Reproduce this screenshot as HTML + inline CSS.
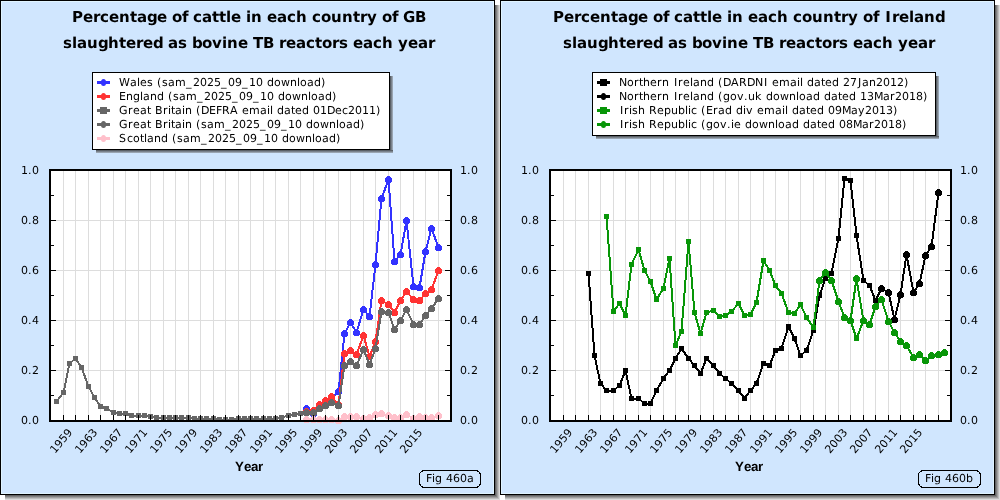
<!DOCTYPE html>
<html lang="en"><head><meta charset="utf-8"><title>Percentage of cattle slaughtered as bovine TB reactors each year</title>
<style>html,body{margin:0;padding:0;background:#fff}body{width:1000px;height:500px;overflow:hidden;font-size:0;line-height:0}.wrap{width:1000px;height:500px;display:flex}.panel{display:block;width:500px;height:500px;flex:0 0 500px}text{text-rendering:geometricPrecision}.panel{will-change:transform}</style></head><body><div class="wrap">
<svg class="panel" width="500" height="500" viewBox="0 0 500 500">
<defs><linearGradient id="lra" x1="0" y1="0" x2="1" y2="0"><stop offset="0" stop-color="#4c5055"/><stop offset="1" stop-color="#a9b6c4"/></linearGradient><linearGradient id="lba" x1="0" y1="0" x2="0" y2="1"><stop offset="0" stop-color="#4c5055"/><stop offset="1" stop-color="#a9b6c4"/></linearGradient></defs>
<rect x="495" y="5" width="1" height="491" fill="#646464"/><rect x="5" y="495" width="490" height="1" fill="#646464"/>
<rect x="496" y="5" width="1" height="492" fill="#828282"/><rect x="5" y="496" width="491" height="1" fill="#828282"/>
<rect x="497" y="5" width="1" height="493" fill="#a0a0a0"/><rect x="5" y="497" width="492" height="1" fill="#a0a0a0"/>
<rect x="498" y="5" width="1" height="494" fill="#bebebe"/><rect x="5" y="498" width="493" height="1" fill="#bebebe"/>
<rect x="499" y="5" width="1" height="495" fill="#dcdcdc"/><rect x="5" y="499" width="494" height="1" fill="#dcdcdc"/>
<rect x="0" y="0" width="495" height="495" fill="#000"/>
<rect x="1" y="1" width="493" height="493" fill="#e0f4ff"/>
<rect x="2" y="2" width="491" height="491" fill="#d0e6fe"/>
<text x="72 83 93 100 109 119 130 137 147 157 167 172 182 188 193 202 212 219 226 231 241 246 251 262 267 277 287 296 307 312 321 331 342 353 360 367 377 382 392 398 403 415" y="22.2" font-family="'DejaVu Sans', 'Liberation Sans', sans-serif" font-weight="bold" font-size="15" fill="#000000">Percentage of cattle in each country of GB</text>
<text x="63 72 77 87 98 108 119 126 136 143 153 163 168 178 187 192 202 212 222 227 238 248 253 263 274 279 286 296 306 315 322 332 339 348 353 363 373 382 393 398 408 418 428" y="47.6" font-family="'DejaVu Sans', 'Liberation Sans', sans-serif" font-weight="bold" font-size="15" fill="#000000">slaughtered as bovine TB reactors each year</text>
<rect x="50" y="170" width="401" height="251" fill="#fff"/>
<path d="M63.5 171V420M75.5 171V420M88.5 171V420M100.5 171V420M113.5 171V420M125.5 171V420M138.5 171V420M150.5 171V420M163.5 171V420M175.5 171V420M188.5 171V420M200.5 171V420M213.5 171V420M225.5 171V420M238.5 171V420M250.5 171V420M263.5 171V420M275.5 171V420M288.5 171V420M300.5 171V420M313.5 171V420M325.5 171V420M338.5 171V420M350.5 171V420M363.5 171V420M375.5 171V420M388.5 171V420M400.5 171V420M413.5 171V420M425.5 171V420M438.5 171V420M51 370.5H450M51 320.5H450M51 270.5H450M51 220.5H450" stroke="#dddddd" stroke-width="1" fill="none"/>
<polyline points="306.5,408.5 313.5,413.5 319.5,406.5 325.5,402.5 331.5,398.5 338.5,391.5 344.5,333.5 350.5,322.5 356.5,332.5 363.5,309.5 369.5,316.5 375.5,264.5 381.5,198.5 388.5,179.5 394.5,261.5 400.5,254.5 406.5,220.5 413.5,286.5 419.5,287.5 425.5,251.5 431.5,228.5 438.5,247.5" fill="none" stroke="#3333ff" stroke-width="2" stroke-linejoin="round" shape-rendering="crispEdges"/>
<g shape-rendering="crispEdges"><circle cx="306.5" cy="408.5" r="3.5" fill="#3333ff"/><circle cx="313.5" cy="413.5" r="3.5" fill="#3333ff"/><circle cx="319.5" cy="406.5" r="3.5" fill="#3333ff"/><circle cx="325.5" cy="402.5" r="3.5" fill="#3333ff"/><circle cx="331.5" cy="398.5" r="3.5" fill="#3333ff"/><circle cx="338.5" cy="391.5" r="3.5" fill="#3333ff"/><circle cx="344.5" cy="333.5" r="3.5" fill="#3333ff"/><circle cx="350.5" cy="322.5" r="3.5" fill="#3333ff"/><circle cx="356.5" cy="332.5" r="3.5" fill="#3333ff"/><circle cx="363.5" cy="309.5" r="3.5" fill="#3333ff"/><circle cx="369.5" cy="316.5" r="3.5" fill="#3333ff"/><circle cx="375.5" cy="264.5" r="3.5" fill="#3333ff"/><circle cx="381.5" cy="198.5" r="3.5" fill="#3333ff"/><circle cx="388.5" cy="179.5" r="3.5" fill="#3333ff"/><circle cx="394.5" cy="261.5" r="3.5" fill="#3333ff"/><circle cx="400.5" cy="254.5" r="3.5" fill="#3333ff"/><circle cx="406.5" cy="220.5" r="3.5" fill="#3333ff"/><circle cx="413.5" cy="286.5" r="3.5" fill="#3333ff"/><circle cx="419.5" cy="287.5" r="3.5" fill="#3333ff"/><circle cx="425.5" cy="251.5" r="3.5" fill="#3333ff"/><circle cx="431.5" cy="228.5" r="3.5" fill="#3333ff"/><circle cx="438.5" cy="247.5" r="3.5" fill="#3333ff"/></g>
<polyline points="306.5,411.5 313.5,410.5 319.5,404.5 325.5,400.5 331.5,396.5 338.5,404.5 344.5,353.5 350.5,350.5 356.5,354.5 363.5,335.5 369.5,356.5 375.5,341.5 381.5,300.5 388.5,304.5 394.5,312.5 400.5,300.5 406.5,291.5 413.5,299.5 419.5,300.5 425.5,293.5 431.5,289.5 438.5,270.5" fill="none" stroke="#ff3333" stroke-width="2" stroke-linejoin="round" shape-rendering="crispEdges"/>
<g shape-rendering="crispEdges"><circle cx="306.5" cy="411.5" r="3.5" fill="#ff3333"/><circle cx="313.5" cy="410.5" r="3.5" fill="#ff3333"/><circle cx="319.5" cy="404.5" r="3.5" fill="#ff3333"/><circle cx="325.5" cy="400.5" r="3.5" fill="#ff3333"/><circle cx="331.5" cy="396.5" r="3.5" fill="#ff3333"/><circle cx="338.5" cy="404.5" r="3.5" fill="#ff3333"/><circle cx="344.5" cy="353.5" r="3.5" fill="#ff3333"/><circle cx="350.5" cy="350.5" r="3.5" fill="#ff3333"/><circle cx="356.5" cy="354.5" r="3.5" fill="#ff3333"/><circle cx="363.5" cy="335.5" r="3.5" fill="#ff3333"/><circle cx="369.5" cy="356.5" r="3.5" fill="#ff3333"/><circle cx="375.5" cy="341.5" r="3.5" fill="#ff3333"/><circle cx="381.5" cy="300.5" r="3.5" fill="#ff3333"/><circle cx="388.5" cy="304.5" r="3.5" fill="#ff3333"/><circle cx="394.5" cy="312.5" r="3.5" fill="#ff3333"/><circle cx="400.5" cy="300.5" r="3.5" fill="#ff3333"/><circle cx="406.5" cy="291.5" r="3.5" fill="#ff3333"/><circle cx="413.5" cy="299.5" r="3.5" fill="#ff3333"/><circle cx="419.5" cy="300.5" r="3.5" fill="#ff3333"/><circle cx="425.5" cy="293.5" r="3.5" fill="#ff3333"/><circle cx="431.5" cy="289.5" r="3.5" fill="#ff3333"/><circle cx="438.5" cy="270.5" r="3.5" fill="#ff3333"/></g>
<polyline points="56.5,401.5 63.5,392.5 69.5,363.5 75.5,358.5 81.5,367.5 88.5,386.5 94.5,397.5 100.5,406.5 106.5,408.5 113.5,412.5 119.5,413.5 125.5,413.5 131.5,415.5 138.5,415.5 144.5,415.5 150.5,416.5 156.5,417.5 163.5,417.5 169.5,417.5 175.5,417.5 181.5,417.5 188.5,417.5 194.5,418.5 200.5,418.5 206.5,418.5 213.5,418.5 219.5,419.5 225.5,419.5 231.5,419.5 238.5,418.5 244.5,418.5 250.5,418.5 256.5,418.5 263.5,418.5 269.5,418.5 275.5,418.5 281.5,417.5 288.5,415.5 294.5,414.5 300.5,413.5" fill="none" stroke="#666666" stroke-width="2" stroke-linejoin="round" shape-rendering="crispEdges"/>
<g shape-rendering="crispEdges"><rect x="54" y="399" width="5" height="5" fill="#666666"/><rect x="61" y="390" width="5" height="5" fill="#666666"/><rect x="67" y="361" width="5" height="5" fill="#666666"/><rect x="73" y="356" width="5" height="5" fill="#666666"/><rect x="79" y="365" width="5" height="5" fill="#666666"/><rect x="86" y="384" width="5" height="5" fill="#666666"/><rect x="92" y="395" width="5" height="5" fill="#666666"/><rect x="98" y="404" width="5" height="5" fill="#666666"/><rect x="104" y="406" width="5" height="5" fill="#666666"/><rect x="111" y="410" width="5" height="5" fill="#666666"/><rect x="117" y="411" width="5" height="5" fill="#666666"/><rect x="123" y="411" width="5" height="5" fill="#666666"/><rect x="129" y="413" width="5" height="5" fill="#666666"/><rect x="136" y="413" width="5" height="5" fill="#666666"/><rect x="142" y="413" width="5" height="5" fill="#666666"/><rect x="148" y="414" width="5" height="5" fill="#666666"/><rect x="154" y="415" width="5" height="5" fill="#666666"/><rect x="161" y="415" width="5" height="5" fill="#666666"/><rect x="167" y="415" width="5" height="5" fill="#666666"/><rect x="173" y="415" width="5" height="5" fill="#666666"/><rect x="179" y="415" width="5" height="5" fill="#666666"/><rect x="186" y="415" width="5" height="5" fill="#666666"/><rect x="192" y="416" width="5" height="5" fill="#666666"/><rect x="198" y="416" width="5" height="5" fill="#666666"/><rect x="204" y="416" width="5" height="5" fill="#666666"/><rect x="211" y="416" width="5" height="5" fill="#666666"/><rect x="217" y="417" width="5" height="5" fill="#666666"/><rect x="223" y="417" width="5" height="5" fill="#666666"/><rect x="229" y="417" width="5" height="5" fill="#666666"/><rect x="236" y="416" width="5" height="5" fill="#666666"/><rect x="242" y="416" width="5" height="5" fill="#666666"/><rect x="248" y="416" width="5" height="5" fill="#666666"/><rect x="254" y="416" width="5" height="5" fill="#666666"/><rect x="261" y="416" width="5" height="5" fill="#666666"/><rect x="267" y="416" width="5" height="5" fill="#666666"/><rect x="273" y="416" width="5" height="5" fill="#666666"/><rect x="279" y="415" width="5" height="5" fill="#666666"/><rect x="286" y="413" width="5" height="5" fill="#666666"/><rect x="292" y="412" width="5" height="5" fill="#666666"/><rect x="298" y="411" width="5" height="5" fill="#666666"/></g>
<polyline points="306.5,412.5 313.5,412.5 319.5,408.5 325.5,405.5 331.5,402.5 338.5,405.5 344.5,365.5 350.5,361.5 356.5,365.5 363.5,349.5 369.5,364.5 375.5,348.5 381.5,311.5 388.5,312.5 394.5,329.5 400.5,320.5 406.5,309.5 413.5,324.5 419.5,324.5 425.5,315.5 431.5,308.5 438.5,298.5" fill="none" stroke="#666666" stroke-width="2" stroke-linejoin="round" shape-rendering="crispEdges"/>
<g shape-rendering="crispEdges"><circle cx="306.5" cy="412.5" r="3.5" fill="#666666"/><circle cx="313.5" cy="412.5" r="3.5" fill="#666666"/><circle cx="319.5" cy="408.5" r="3.5" fill="#666666"/><circle cx="325.5" cy="405.5" r="3.5" fill="#666666"/><circle cx="331.5" cy="402.5" r="3.5" fill="#666666"/><circle cx="338.5" cy="405.5" r="3.5" fill="#666666"/><circle cx="344.5" cy="365.5" r="3.5" fill="#666666"/><circle cx="350.5" cy="361.5" r="3.5" fill="#666666"/><circle cx="356.5" cy="365.5" r="3.5" fill="#666666"/><circle cx="363.5" cy="349.5" r="3.5" fill="#666666"/><circle cx="369.5" cy="364.5" r="3.5" fill="#666666"/><circle cx="375.5" cy="348.5" r="3.5" fill="#666666"/><circle cx="381.5" cy="311.5" r="3.5" fill="#666666"/><circle cx="388.5" cy="312.5" r="3.5" fill="#666666"/><circle cx="394.5" cy="329.5" r="3.5" fill="#666666"/><circle cx="400.5" cy="320.5" r="3.5" fill="#666666"/><circle cx="406.5" cy="309.5" r="3.5" fill="#666666"/><circle cx="413.5" cy="324.5" r="3.5" fill="#666666"/><circle cx="419.5" cy="324.5" r="3.5" fill="#666666"/><circle cx="425.5" cy="315.5" r="3.5" fill="#666666"/><circle cx="431.5" cy="308.5" r="3.5" fill="#666666"/><circle cx="438.5" cy="298.5" r="3.5" fill="#666666"/></g>
<polyline points="306.5,419.5 313.5,419.5 319.5,419.5 325.5,419.5 331.5,419.5 338.5,420.5 344.5,416.5 350.5,416.5 356.5,416.5 363.5,418.5 369.5,417.5 375.5,414.5 381.5,413.5 388.5,415.5 394.5,417.5 400.5,417.5 406.5,414.5 413.5,418.5 419.5,416.5 425.5,417.5 431.5,417.5 438.5,415.5" fill="none" stroke="#ffc0cb" stroke-width="2" stroke-linejoin="round" shape-rendering="crispEdges"/>
<g shape-rendering="crispEdges"><circle cx="306.5" cy="419.5" r="3.5" fill="#ffc0cb"/><circle cx="313.5" cy="419.5" r="3.5" fill="#ffc0cb"/><circle cx="319.5" cy="419.5" r="3.5" fill="#ffc0cb"/><circle cx="325.5" cy="419.5" r="3.5" fill="#ffc0cb"/><circle cx="331.5" cy="419.5" r="3.5" fill="#ffc0cb"/><circle cx="338.5" cy="420.5" r="3.5" fill="#ffc0cb"/><circle cx="344.5" cy="416.5" r="3.5" fill="#ffc0cb"/><circle cx="350.5" cy="416.5" r="3.5" fill="#ffc0cb"/><circle cx="356.5" cy="416.5" r="3.5" fill="#ffc0cb"/><circle cx="363.5" cy="418.5" r="3.5" fill="#ffc0cb"/><circle cx="369.5" cy="417.5" r="3.5" fill="#ffc0cb"/><circle cx="375.5" cy="414.5" r="3.5" fill="#ffc0cb"/><circle cx="381.5" cy="413.5" r="3.5" fill="#ffc0cb"/><circle cx="388.5" cy="415.5" r="3.5" fill="#ffc0cb"/><circle cx="394.5" cy="417.5" r="3.5" fill="#ffc0cb"/><circle cx="400.5" cy="417.5" r="3.5" fill="#ffc0cb"/><circle cx="406.5" cy="414.5" r="3.5" fill="#ffc0cb"/><circle cx="413.5" cy="418.5" r="3.5" fill="#ffc0cb"/><circle cx="419.5" cy="416.5" r="3.5" fill="#ffc0cb"/><circle cx="425.5" cy="417.5" r="3.5" fill="#ffc0cb"/><circle cx="431.5" cy="417.5" r="3.5" fill="#ffc0cb"/><circle cx="438.5" cy="415.5" r="3.5" fill="#ffc0cb"/></g>
<path d="M63.5 415V420M75.5 415V420M88.5 415V420M100.5 415V420M113.5 415V420M125.5 415V420M138.5 415V420M150.5 415V420M163.5 415V420M175.5 415V420M188.5 415V420M200.5 415V420M213.5 415V420M225.5 415V420M238.5 415V420M250.5 415V420M263.5 415V420M275.5 415V420M288.5 415V420M300.5 415V420M313.5 415V420M325.5 415V420M338.5 415V420M350.5 415V420M363.5 415V420M375.5 415V420M388.5 415V420M400.5 415V420M413.5 415V420M425.5 415V420M438.5 415V420M51 395.5h3M450 395.5h-3M51 370.5h5M450 370.5h-5M51 345.5h3M450 345.5h-3M51 320.5h5M450 320.5h-5M51 295.5h3M450 295.5h-3M51 270.5h5M450 270.5h-5M51 245.5h3M450 245.5h-3M51 220.5h5M450 220.5h-5M51 195.5h3M450 195.5h-3" stroke="#000" stroke-width="1" fill="none"/>
<rect x="50" y="170" width="401" height="251" fill="none" stroke="#000" stroke-width="2"/>
<text x="21 28 32" y="424.4" font-family="'DejaVu Sans', 'Liberation Sans', sans-serif" font-size="11" fill="#000000">0.0</text>
<text x="460 467 471" y="424.4" font-family="'DejaVu Sans', 'Liberation Sans', sans-serif" font-size="11" fill="#000000">0.0</text>
<text x="21 28 32" y="374.4" font-family="'DejaVu Sans', 'Liberation Sans', sans-serif" font-size="11" fill="#000000">0.2</text>
<text x="460 467 471" y="374.4" font-family="'DejaVu Sans', 'Liberation Sans', sans-serif" font-size="11" fill="#000000">0.2</text>
<text x="21 28 32" y="324.4" font-family="'DejaVu Sans', 'Liberation Sans', sans-serif" font-size="11" fill="#000000">0.4</text>
<text x="460 467 471" y="324.4" font-family="'DejaVu Sans', 'Liberation Sans', sans-serif" font-size="11" fill="#000000">0.4</text>
<text x="21 28 32" y="274.4" font-family="'DejaVu Sans', 'Liberation Sans', sans-serif" font-size="11" fill="#000000">0.6</text>
<text x="460 467 471" y="274.4" font-family="'DejaVu Sans', 'Liberation Sans', sans-serif" font-size="11" fill="#000000">0.6</text>
<text x="21 28 32" y="224.4" font-family="'DejaVu Sans', 'Liberation Sans', sans-serif" font-size="11" fill="#000000">0.8</text>
<text x="460 467 471" y="224.4" font-family="'DejaVu Sans', 'Liberation Sans', sans-serif" font-size="11" fill="#000000">0.8</text>
<text x="21 28 32" y="174.4" font-family="'DejaVu Sans', 'Liberation Sans', sans-serif" font-size="11" fill="#000000">1.0</text>
<text x="460 467 471" y="174.4" font-family="'DejaVu Sans', 'Liberation Sans', sans-serif" font-size="11" fill="#000000">1.0</text>
<text transform="translate(61 440.8) rotate(-50)" x="-14 -7 0 7" y="4" font-family="'DejaVu Sans', 'Liberation Sans', sans-serif" font-size="11" fill="#000000">1959</text>
<text transform="translate(86 440.8) rotate(-50)" x="-14 -7 0 7" y="4" font-family="'DejaVu Sans', 'Liberation Sans', sans-serif" font-size="11" fill="#000000">1963</text>
<text transform="translate(111 440.8) rotate(-50)" x="-14 -7 0 7" y="4" font-family="'DejaVu Sans', 'Liberation Sans', sans-serif" font-size="11" fill="#000000">1967</text>
<text transform="translate(136 440.8) rotate(-50)" x="-14 -7 0 7" y="4" font-family="'DejaVu Sans', 'Liberation Sans', sans-serif" font-size="11" fill="#000000">1971</text>
<text transform="translate(161 440.8) rotate(-50)" x="-14 -7 0 7" y="4" font-family="'DejaVu Sans', 'Liberation Sans', sans-serif" font-size="11" fill="#000000">1975</text>
<text transform="translate(186 440.8) rotate(-50)" x="-14 -7 0 7" y="4" font-family="'DejaVu Sans', 'Liberation Sans', sans-serif" font-size="11" fill="#000000">1979</text>
<text transform="translate(211 440.8) rotate(-50)" x="-14 -7 0 7" y="4" font-family="'DejaVu Sans', 'Liberation Sans', sans-serif" font-size="11" fill="#000000">1983</text>
<text transform="translate(236 440.8) rotate(-50)" x="-14 -7 0 7" y="4" font-family="'DejaVu Sans', 'Liberation Sans', sans-serif" font-size="11" fill="#000000">1987</text>
<text transform="translate(261 440.8) rotate(-50)" x="-14 -7 0 7" y="4" font-family="'DejaVu Sans', 'Liberation Sans', sans-serif" font-size="11" fill="#000000">1991</text>
<text transform="translate(286 440.8) rotate(-50)" x="-14 -7 0 7" y="4" font-family="'DejaVu Sans', 'Liberation Sans', sans-serif" font-size="11" fill="#000000">1995</text>
<text transform="translate(311 440.8) rotate(-50)" x="-14 -7 0 7" y="4" font-family="'DejaVu Sans', 'Liberation Sans', sans-serif" font-size="11" fill="#000000">1999</text>
<text transform="translate(336 440.8) rotate(-50)" x="-14 -7 0 7" y="4" font-family="'DejaVu Sans', 'Liberation Sans', sans-serif" font-size="11" fill="#000000">2003</text>
<text transform="translate(361 440.8) rotate(-50)" x="-14 -7 0 7" y="4" font-family="'DejaVu Sans', 'Liberation Sans', sans-serif" font-size="11" fill="#000000">2007</text>
<text transform="translate(386 440.8) rotate(-50)" x="-14 -7 0 7" y="4" font-family="'DejaVu Sans', 'Liberation Sans', sans-serif" font-size="11" fill="#000000">2011</text>
<text transform="translate(411 440.8) rotate(-50)" x="-14 -7 0 7" y="4" font-family="'DejaVu Sans', 'Liberation Sans', sans-serif" font-size="11" fill="#000000">2015</text>
<text x="235 244 251 258" y="470.8" font-family="'Liberation Sans', sans-serif" font-weight="bold" font-size="13.33" fill="#000000">Year</text>
<rect x="390" y="76" width="3" height="77" fill="url(#lra)"/>
<rect x="96" y="150" width="297" height="3" fill="url(#lba)"/>
<rect x="92.5" y="72.5" width="297" height="77" fill="#fff" stroke="#000" stroke-width="1"/>
<rect x="97" y="81" width="13" height="3" fill="#3333ff"/>
<ellipse cx="103.5" cy="82.5" rx="2.6" ry="3.5" fill="#3333ff"/>
<text x="119 130 137 140 147 153 157 162 168 175 186 193 200 207 214 221 228 235 242 249 256 263 267 274 281 290 297 300 307 314 321" y="85.5" font-family="'DejaVu Sans', 'Liberation Sans', sans-serif" font-size="11" fill="#000000">Wales (sam_2025_09_10 download)</text>
<rect x="97" y="95" width="13" height="3" fill="#ff3333"/>
<ellipse cx="103.5" cy="96.5" rx="2.6" ry="3.5" fill="#ff3333"/>
<text x="119 126 133 140 143 150 157 164 168 173 179 186 197 204 211 218 225 232 239 246 253 260 267 274 278 285 292 301 308 311 318 325 332" y="99.5" font-family="'DejaVu Sans', 'Liberation Sans', sans-serif" font-size="11" fill="#000000">England (sam_2025_09_10 download)</text>
<rect x="97" y="109" width="13" height="3" fill="#666666"/>
<rect x="100" y="107" width="7" height="7" fill="#666666"/>
<text x="119 128 133 140 147 151 155 163 168 171 175 182 185 192 196 201 209 216 222 230 238 242 249 260 267 270 273 277 284 291 295 302 309 313 320 327 335 342 348 355 362 369 376" y="113.5" font-family="'DejaVu Sans', 'Liberation Sans', sans-serif" font-size="11" fill="#000000">Great Britain (DEFRA email dated 01Dec2011)</text>
<rect x="97" y="123" width="13" height="3" fill="#666666"/>
<ellipse cx="103.5" cy="124.5" rx="2.6" ry="3.5" fill="#666666"/>
<text x="119 128 133 140 147 151 155 163 168 171 175 182 185 192 196 201 207 214 225 232 239 246 253 260 267 274 281 288 295 302 306 313 320 329 336 339 346 353 360" y="127.5" font-family="'DejaVu Sans', 'Liberation Sans', sans-serif" font-size="11" fill="#000000">Great Britain (sam_2025_09_10 download)</text>
<rect x="97" y="137" width="13" height="3" fill="#ffc0cb"/>
<ellipse cx="103.5" cy="138.5" rx="2.6" ry="3.5" fill="#ffc0cb"/>
<text x="119 127 133 140 144 147 154 161 168 172 177 183 190 201 208 215 222 229 236 243 250 257 264 271 278 282 289 296 305 312 315 322 329 336" y="141.5" font-family="'DejaVu Sans', 'Liberation Sans', sans-serif" font-size="11" fill="#000000">Scotland (sam_2025_09_10 download)</text>
<rect x="419.5" y="470.5" width="61" height="17" rx="5" ry="5" fill="#d0e6fe" stroke="#000" stroke-width="1" shape-rendering="crispEdges"/>
<text x="426 432 435 442 446 453 460 467" y="481.6" font-family="'DejaVu Sans', 'Liberation Sans', sans-serif" font-size="11" fill="#000000">Fig 460a</text>
</svg>
<svg class="panel" width="500" height="500" viewBox="0 0 500 500">
<defs><linearGradient id="lrb" x1="0" y1="0" x2="1" y2="0"><stop offset="0" stop-color="#4c5055"/><stop offset="1" stop-color="#a9b6c4"/></linearGradient><linearGradient id="lbb" x1="0" y1="0" x2="0" y2="1"><stop offset="0" stop-color="#4c5055"/><stop offset="1" stop-color="#a9b6c4"/></linearGradient></defs>
<rect x="495" y="5" width="1" height="491" fill="#646464"/><rect x="5" y="495" width="490" height="1" fill="#646464"/>
<rect x="496" y="5" width="1" height="492" fill="#828282"/><rect x="5" y="496" width="491" height="1" fill="#828282"/>
<rect x="497" y="5" width="1" height="493" fill="#a0a0a0"/><rect x="5" y="497" width="492" height="1" fill="#a0a0a0"/>
<rect x="498" y="5" width="1" height="494" fill="#bebebe"/><rect x="5" y="498" width="493" height="1" fill="#bebebe"/>
<rect x="499" y="5" width="1" height="495" fill="#dcdcdc"/><rect x="5" y="499" width="494" height="1" fill="#dcdcdc"/>
<rect x="0" y="0" width="495" height="495" fill="#000"/>
<rect x="1" y="1" width="493" height="493" fill="#e0f4ff"/>
<rect x="2" y="2" width="491" height="491" fill="#d0e6fe"/>
<text x="53 64 74 81 90 100 111 118 128 138 148 153 163 169 174 183 193 200 207 212 222 227 232 243 248 258 268 277 288 293 302 312 323 334 341 348 358 363 373 379 385.2 392 399 409 414 424 435" y="22.2" font-family="'DejaVu Sans', 'Liberation Sans', sans-serif" font-weight="bold" font-size="15" fill="#000000">Percentage of cattle in each country of Ireland</text>
<text x="63 72 77 87 98 108 119 126 136 143 153 163 168 178 187 192 202 212 222 227 238 248 253 263 274 279 286 296 306 315 322 332 339 348 353 363 373 382 393 398 408 418 428" y="47.6" font-family="'DejaVu Sans', 'Liberation Sans', sans-serif" font-weight="bold" font-size="15" fill="#000000">slaughtered as bovine TB reactors each year</text>
<rect x="50" y="170" width="401" height="251" fill="#fff"/>
<path d="M63.5 171V420M75.5 171V420M88.5 171V420M100.5 171V420M113.5 171V420M125.5 171V420M138.5 171V420M150.5 171V420M163.5 171V420M175.5 171V420M188.5 171V420M200.5 171V420M213.5 171V420M225.5 171V420M238.5 171V420M250.5 171V420M263.5 171V420M275.5 171V420M288.5 171V420M300.5 171V420M313.5 171V420M325.5 171V420M338.5 171V420M350.5 171V420M363.5 171V420M375.5 171V420M388.5 171V420M400.5 171V420M413.5 171V420M425.5 171V420M438.5 171V420M51 370.5H450M51 320.5H450M51 270.5H450M51 220.5H450" stroke="#dddddd" stroke-width="1" fill="none"/>
<polyline points="88.5,273.5 94.5,355.5 100.5,383.5 106.5,390.5 113.5,390.5 119.5,385.5 125.5,370.5 131.5,398.5 138.5,398.5 144.5,403.5 150.5,403.5 156.5,390.5 163.5,378.5 169.5,370.5 175.5,358.5 181.5,348.5 188.5,358.5 194.5,365.5 200.5,373.5 206.5,358.5 213.5,365.5 219.5,373.5 225.5,378.5 231.5,383.5 238.5,390.5 244.5,398.5 250.5,390.5 256.5,383.5 263.5,363.5 269.5,365.5 275.5,350.5 281.5,348.5 288.5,326.5 294.5,338.5 300.5,355.5 306.5,350.5 313.5,330.5 319.5,295.5 325.5,278.5 331.5,273.5 338.5,238.5 344.5,178.5 350.5,180.5 356.5,235.5 363.5,280.5 369.5,285.5 375.5,300.5 381.5,288.5 388.5,292.5" fill="none" stroke="#000000" stroke-width="2" stroke-linejoin="round" shape-rendering="crispEdges"/>
<g shape-rendering="crispEdges"><rect x="86" y="271" width="5" height="5" fill="#000000"/><rect x="92" y="353" width="5" height="5" fill="#000000"/><rect x="98" y="381" width="5" height="5" fill="#000000"/><rect x="104" y="388" width="5" height="5" fill="#000000"/><rect x="111" y="388" width="5" height="5" fill="#000000"/><rect x="117" y="383" width="5" height="5" fill="#000000"/><rect x="123" y="368" width="5" height="5" fill="#000000"/><rect x="129" y="396" width="5" height="5" fill="#000000"/><rect x="136" y="396" width="5" height="5" fill="#000000"/><rect x="142" y="401" width="5" height="5" fill="#000000"/><rect x="148" y="401" width="5" height="5" fill="#000000"/><rect x="154" y="388" width="5" height="5" fill="#000000"/><rect x="161" y="376" width="5" height="5" fill="#000000"/><rect x="167" y="368" width="5" height="5" fill="#000000"/><rect x="173" y="356" width="5" height="5" fill="#000000"/><rect x="179" y="346" width="5" height="5" fill="#000000"/><rect x="186" y="356" width="5" height="5" fill="#000000"/><rect x="192" y="363" width="5" height="5" fill="#000000"/><rect x="198" y="371" width="5" height="5" fill="#000000"/><rect x="204" y="356" width="5" height="5" fill="#000000"/><rect x="211" y="363" width="5" height="5" fill="#000000"/><rect x="217" y="371" width="5" height="5" fill="#000000"/><rect x="223" y="376" width="5" height="5" fill="#000000"/><rect x="229" y="381" width="5" height="5" fill="#000000"/><rect x="236" y="388" width="5" height="5" fill="#000000"/><rect x="242" y="396" width="5" height="5" fill="#000000"/><rect x="248" y="388" width="5" height="5" fill="#000000"/><rect x="254" y="381" width="5" height="5" fill="#000000"/><rect x="261" y="361" width="5" height="5" fill="#000000"/><rect x="267" y="363" width="5" height="5" fill="#000000"/><rect x="273" y="348" width="5" height="5" fill="#000000"/><rect x="279" y="346" width="5" height="5" fill="#000000"/><rect x="286" y="324" width="5" height="5" fill="#000000"/><rect x="292" y="336" width="5" height="5" fill="#000000"/><rect x="298" y="353" width="5" height="5" fill="#000000"/><rect x="304" y="348" width="5" height="5" fill="#000000"/><rect x="311" y="328" width="5" height="5" fill="#000000"/><rect x="317" y="293" width="5" height="5" fill="#000000"/><rect x="323" y="276" width="5" height="5" fill="#000000"/><rect x="329" y="271" width="5" height="5" fill="#000000"/><rect x="336" y="236" width="5" height="5" fill="#000000"/><rect x="342" y="176" width="5" height="5" fill="#000000"/><rect x="348" y="178" width="5" height="5" fill="#000000"/><rect x="354" y="233" width="5" height="5" fill="#000000"/><rect x="361" y="278" width="5" height="5" fill="#000000"/><rect x="367" y="283" width="5" height="5" fill="#000000"/><rect x="373" y="298" width="5" height="5" fill="#000000"/><rect x="379" y="286" width="5" height="5" fill="#000000"/><rect x="386" y="290" width="5" height="5" fill="#000000"/></g>
<polyline points="381.5,288.5 388.5,292.5 394.5,319.5 400.5,294.5 406.5,254.5 413.5,292.5 419.5,283.5 425.5,255.5 431.5,246.5 438.5,192.5" fill="none" stroke="#000000" stroke-width="2" stroke-linejoin="round" shape-rendering="crispEdges"/>
<g shape-rendering="crispEdges"><circle cx="381.5" cy="288.5" r="3.5" fill="#000000"/><circle cx="388.5" cy="292.5" r="3.5" fill="#000000"/><circle cx="394.5" cy="319.5" r="3.5" fill="#000000"/><circle cx="400.5" cy="294.5" r="3.5" fill="#000000"/><circle cx="406.5" cy="254.5" r="3.5" fill="#000000"/><circle cx="413.5" cy="292.5" r="3.5" fill="#000000"/><circle cx="419.5" cy="283.5" r="3.5" fill="#000000"/><circle cx="425.5" cy="255.5" r="3.5" fill="#000000"/><circle cx="431.5" cy="246.5" r="3.5" fill="#000000"/><circle cx="438.5" cy="192.5" r="3.5" fill="#000000"/></g>
<polyline points="106.5,216.5 113.5,311.5 119.5,303.5 125.5,315.5 131.5,264.5 138.5,249.5 144.5,270.5 150.5,281.5 156.5,299.5 163.5,288.5 169.5,258.5 175.5,345.5 181.5,331.5 188.5,241.5 194.5,312.5 200.5,333.5 206.5,312.5 213.5,310.5 219.5,316.5 225.5,315.5 231.5,311.5 238.5,303.5 244.5,315.5 250.5,314.5 256.5,302.5 263.5,260.5 269.5,270.5 275.5,285.5 281.5,293.5 288.5,312.5 294.5,313.5 300.5,304.5 306.5,317.5 313.5,327.5 319.5,280.5 325.5,272.5 331.5,280.5 338.5,301.5 344.5,317.5 350.5,320.5 356.5,338.5 363.5,320.5 369.5,324.5 375.5,306.5 381.5,299.5 388.5,321.5 394.5,332.5" fill="none" stroke="#089608" stroke-width="2" stroke-linejoin="round" shape-rendering="crispEdges"/>
<g shape-rendering="crispEdges"><rect x="104" y="214" width="5" height="5" fill="#089608"/><rect x="111" y="309" width="5" height="5" fill="#089608"/><rect x="117" y="301" width="5" height="5" fill="#089608"/><rect x="123" y="313" width="5" height="5" fill="#089608"/><rect x="129" y="262" width="5" height="5" fill="#089608"/><rect x="136" y="247" width="5" height="5" fill="#089608"/><rect x="142" y="268" width="5" height="5" fill="#089608"/><rect x="148" y="279" width="5" height="5" fill="#089608"/><rect x="154" y="297" width="5" height="5" fill="#089608"/><rect x="161" y="286" width="5" height="5" fill="#089608"/><rect x="167" y="256" width="5" height="5" fill="#089608"/><rect x="173" y="343" width="5" height="5" fill="#089608"/><rect x="179" y="329" width="5" height="5" fill="#089608"/><rect x="186" y="239" width="5" height="5" fill="#089608"/><rect x="192" y="310" width="5" height="5" fill="#089608"/><rect x="198" y="331" width="5" height="5" fill="#089608"/><rect x="204" y="310" width="5" height="5" fill="#089608"/><rect x="211" y="308" width="5" height="5" fill="#089608"/><rect x="217" y="314" width="5" height="5" fill="#089608"/><rect x="223" y="313" width="5" height="5" fill="#089608"/><rect x="229" y="309" width="5" height="5" fill="#089608"/><rect x="236" y="301" width="5" height="5" fill="#089608"/><rect x="242" y="313" width="5" height="5" fill="#089608"/><rect x="248" y="312" width="5" height="5" fill="#089608"/><rect x="254" y="300" width="5" height="5" fill="#089608"/><rect x="261" y="258" width="5" height="5" fill="#089608"/><rect x="267" y="268" width="5" height="5" fill="#089608"/><rect x="273" y="283" width="5" height="5" fill="#089608"/><rect x="279" y="291" width="5" height="5" fill="#089608"/><rect x="286" y="310" width="5" height="5" fill="#089608"/><rect x="292" y="311" width="5" height="5" fill="#089608"/><rect x="298" y="302" width="5" height="5" fill="#089608"/><rect x="304" y="315" width="5" height="5" fill="#089608"/><rect x="311" y="325" width="5" height="5" fill="#089608"/><rect x="317" y="278" width="5" height="5" fill="#089608"/><rect x="323" y="270" width="5" height="5" fill="#089608"/><rect x="329" y="278" width="5" height="5" fill="#089608"/><rect x="336" y="299" width="5" height="5" fill="#089608"/><rect x="342" y="315" width="5" height="5" fill="#089608"/><rect x="348" y="318" width="5" height="5" fill="#089608"/><rect x="354" y="336" width="5" height="5" fill="#089608"/><rect x="361" y="318" width="5" height="5" fill="#089608"/><rect x="367" y="322" width="5" height="5" fill="#089608"/><rect x="373" y="304" width="5" height="5" fill="#089608"/><rect x="379" y="297" width="5" height="5" fill="#089608"/><rect x="386" y="319" width="5" height="5" fill="#089608"/><rect x="392" y="330" width="5" height="5" fill="#089608"/></g>
<polyline points="319.5,280.5 325.5,272.5 331.5,280.5 338.5,301.5 344.5,317.5 350.5,320.5 356.5,278.5 363.5,320.5 369.5,324.5 375.5,306.5 381.5,299.5 388.5,321.5 394.5,332.5 400.5,341.5 406.5,345.5 413.5,357.5 419.5,354.5 425.5,360.5 431.5,355.5 438.5,354.5 444.5,352.5" fill="none" stroke="#089608" stroke-width="2" stroke-linejoin="round" shape-rendering="crispEdges"/>
<g shape-rendering="crispEdges"><circle cx="319.5" cy="280.5" r="3.5" fill="#089608"/><circle cx="325.5" cy="272.5" r="3.5" fill="#089608"/><circle cx="331.5" cy="280.5" r="3.5" fill="#089608"/><circle cx="338.5" cy="301.5" r="3.5" fill="#089608"/><circle cx="344.5" cy="317.5" r="3.5" fill="#089608"/><circle cx="350.5" cy="320.5" r="3.5" fill="#089608"/><circle cx="356.5" cy="278.5" r="3.5" fill="#089608"/><circle cx="363.5" cy="320.5" r="3.5" fill="#089608"/><circle cx="369.5" cy="324.5" r="3.5" fill="#089608"/><circle cx="375.5" cy="306.5" r="3.5" fill="#089608"/><circle cx="381.5" cy="299.5" r="3.5" fill="#089608"/><circle cx="388.5" cy="321.5" r="3.5" fill="#089608"/><circle cx="394.5" cy="332.5" r="3.5" fill="#089608"/><circle cx="400.5" cy="341.5" r="3.5" fill="#089608"/><circle cx="406.5" cy="345.5" r="3.5" fill="#089608"/><circle cx="413.5" cy="357.5" r="3.5" fill="#089608"/><circle cx="419.5" cy="354.5" r="3.5" fill="#089608"/><circle cx="425.5" cy="360.5" r="3.5" fill="#089608"/><circle cx="431.5" cy="355.5" r="3.5" fill="#089608"/><circle cx="438.5" cy="354.5" r="3.5" fill="#089608"/><circle cx="444.5" cy="352.5" r="3.5" fill="#089608"/></g>
<path d="M63.5 415V420M75.5 415V420M88.5 415V420M100.5 415V420M113.5 415V420M125.5 415V420M138.5 415V420M150.5 415V420M163.5 415V420M175.5 415V420M188.5 415V420M200.5 415V420M213.5 415V420M225.5 415V420M238.5 415V420M250.5 415V420M263.5 415V420M275.5 415V420M288.5 415V420M300.5 415V420M313.5 415V420M325.5 415V420M338.5 415V420M350.5 415V420M363.5 415V420M375.5 415V420M388.5 415V420M400.5 415V420M413.5 415V420M425.5 415V420M438.5 415V420M51 395.5h3M450 395.5h-3M51 370.5h5M450 370.5h-5M51 345.5h3M450 345.5h-3M51 320.5h5M450 320.5h-5M51 295.5h3M450 295.5h-3M51 270.5h5M450 270.5h-5M51 245.5h3M450 245.5h-3M51 220.5h5M450 220.5h-5M51 195.5h3M450 195.5h-3" stroke="#000" stroke-width="1" fill="none"/>
<rect x="50" y="170" width="401" height="251" fill="none" stroke="#000" stroke-width="2"/>
<text x="21 28 32" y="424.4" font-family="'DejaVu Sans', 'Liberation Sans', sans-serif" font-size="11" fill="#000000">0.0</text>
<text x="460 467 471" y="424.4" font-family="'DejaVu Sans', 'Liberation Sans', sans-serif" font-size="11" fill="#000000">0.0</text>
<text x="21 28 32" y="374.4" font-family="'DejaVu Sans', 'Liberation Sans', sans-serif" font-size="11" fill="#000000">0.2</text>
<text x="460 467 471" y="374.4" font-family="'DejaVu Sans', 'Liberation Sans', sans-serif" font-size="11" fill="#000000">0.2</text>
<text x="21 28 32" y="324.4" font-family="'DejaVu Sans', 'Liberation Sans', sans-serif" font-size="11" fill="#000000">0.4</text>
<text x="460 467 471" y="324.4" font-family="'DejaVu Sans', 'Liberation Sans', sans-serif" font-size="11" fill="#000000">0.4</text>
<text x="21 28 32" y="274.4" font-family="'DejaVu Sans', 'Liberation Sans', sans-serif" font-size="11" fill="#000000">0.6</text>
<text x="460 467 471" y="274.4" font-family="'DejaVu Sans', 'Liberation Sans', sans-serif" font-size="11" fill="#000000">0.6</text>
<text x="21 28 32" y="224.4" font-family="'DejaVu Sans', 'Liberation Sans', sans-serif" font-size="11" fill="#000000">0.8</text>
<text x="460 467 471" y="224.4" font-family="'DejaVu Sans', 'Liberation Sans', sans-serif" font-size="11" fill="#000000">0.8</text>
<text x="21 28 32" y="174.4" font-family="'DejaVu Sans', 'Liberation Sans', sans-serif" font-size="11" fill="#000000">1.0</text>
<text x="460 467 471" y="174.4" font-family="'DejaVu Sans', 'Liberation Sans', sans-serif" font-size="11" fill="#000000">1.0</text>
<text transform="translate(61 440.8) rotate(-50)" x="-14 -7 0 7" y="4" font-family="'DejaVu Sans', 'Liberation Sans', sans-serif" font-size="11" fill="#000000">1959</text>
<text transform="translate(86 440.8) rotate(-50)" x="-14 -7 0 7" y="4" font-family="'DejaVu Sans', 'Liberation Sans', sans-serif" font-size="11" fill="#000000">1963</text>
<text transform="translate(111 440.8) rotate(-50)" x="-14 -7 0 7" y="4" font-family="'DejaVu Sans', 'Liberation Sans', sans-serif" font-size="11" fill="#000000">1967</text>
<text transform="translate(136 440.8) rotate(-50)" x="-14 -7 0 7" y="4" font-family="'DejaVu Sans', 'Liberation Sans', sans-serif" font-size="11" fill="#000000">1971</text>
<text transform="translate(161 440.8) rotate(-50)" x="-14 -7 0 7" y="4" font-family="'DejaVu Sans', 'Liberation Sans', sans-serif" font-size="11" fill="#000000">1975</text>
<text transform="translate(186 440.8) rotate(-50)" x="-14 -7 0 7" y="4" font-family="'DejaVu Sans', 'Liberation Sans', sans-serif" font-size="11" fill="#000000">1979</text>
<text transform="translate(211 440.8) rotate(-50)" x="-14 -7 0 7" y="4" font-family="'DejaVu Sans', 'Liberation Sans', sans-serif" font-size="11" fill="#000000">1983</text>
<text transform="translate(236 440.8) rotate(-50)" x="-14 -7 0 7" y="4" font-family="'DejaVu Sans', 'Liberation Sans', sans-serif" font-size="11" fill="#000000">1987</text>
<text transform="translate(261 440.8) rotate(-50)" x="-14 -7 0 7" y="4" font-family="'DejaVu Sans', 'Liberation Sans', sans-serif" font-size="11" fill="#000000">1991</text>
<text transform="translate(286 440.8) rotate(-50)" x="-14 -7 0 7" y="4" font-family="'DejaVu Sans', 'Liberation Sans', sans-serif" font-size="11" fill="#000000">1995</text>
<text transform="translate(311 440.8) rotate(-50)" x="-14 -7 0 7" y="4" font-family="'DejaVu Sans', 'Liberation Sans', sans-serif" font-size="11" fill="#000000">1999</text>
<text transform="translate(336 440.8) rotate(-50)" x="-14 -7 0 7" y="4" font-family="'DejaVu Sans', 'Liberation Sans', sans-serif" font-size="11" fill="#000000">2003</text>
<text transform="translate(361 440.8) rotate(-50)" x="-14 -7 0 7" y="4" font-family="'DejaVu Sans', 'Liberation Sans', sans-serif" font-size="11" fill="#000000">2007</text>
<text transform="translate(386 440.8) rotate(-50)" x="-14 -7 0 7" y="4" font-family="'DejaVu Sans', 'Liberation Sans', sans-serif" font-size="11" fill="#000000">2011</text>
<text transform="translate(411 440.8) rotate(-50)" x="-14 -7 0 7" y="4" font-family="'DejaVu Sans', 'Liberation Sans', sans-serif" font-size="11" fill="#000000">2015</text>
<text x="235 244 251 258" y="470.8" font-family="'Liberation Sans', sans-serif" font-weight="bold" font-size="13.33" fill="#000000">Year</text>
<rect x="436" y="76" width="3" height="63" fill="url(#lrb)"/>
<rect x="96" y="136" width="343" height="3" fill="url(#lbb)"/>
<rect x="92.5" y="72.5" width="343" height="63" fill="#fff" stroke="#000" stroke-width="1"/>
<rect x="97" y="81" width="13" height="3" fill="#000000"/>
<rect x="100" y="79" width="7" height="7" fill="#000000"/>
<text x="119 127 134 139 143 150 157 162 169 173.9 178 183 190 193 200 207 214 218 223 231 239 247 255 263.9 268 272 279 290 297 300 303 307 314 321 325 332 339 343 350 357.9 362 369 376 383 390 397 404" y="85.5" font-family="'DejaVu Sans', 'Liberation Sans', sans-serif" font-size="11" fill="#000000">Northern Ireland (DARDNI email dated 27Jan2012)</text>
<rect x="97" y="95" width="13" height="3" fill="#000000"/>
<ellipse cx="103.5" cy="96.5" rx="2.6" ry="3.5" fill="#000000"/>
<text x="119 127 134 139 143 150 157 162 169 173.9 178 183 190 193 200 207 214 218 223 230 237 244 248 255 262 266 273 280 289 296 299 306 313 320 324 331 338 342 349 356 360 367 374 383 390 395 402 409 416 423" y="99.5" font-family="'DejaVu Sans', 'Liberation Sans', sans-serif" font-size="11" fill="#000000">Northern Ireland (gov.uk download dated 13Mar2018)</text>
<rect x="97" y="109" width="13" height="3" fill="#089608"/>
<rect x="100" y="107" width="7" height="7" fill="#089608"/>
<text x="119.9 124 129 132 138 145 149 157 164 171 178 185 188 191 197 201 206 213 218 225 232 236 243 246 253 257 264 275 282 285 288 292 299 306 310 317 324 328 335 342 351 358 365 372 379 386 393" y="113.5" font-family="'DejaVu Sans', 'Liberation Sans', sans-serif" font-size="11" fill="#000000">Irish Republic (Erad div email dated 09May2013)</text>
<rect x="97" y="123" width="13" height="3" fill="#089608"/>
<ellipse cx="103.5" cy="124.5" rx="2.6" ry="3.5" fill="#089608"/>
<text x="119.9 124 129 132 138 145 149 157 164 171 178 185 188 191 197 201 206 213 220 227 231 234 241 245 252 259 268 275 278 285 292 299 303 310 317 321 328 335 339 346 353 362 369 374 381 388 395 402" y="127.5" font-family="'DejaVu Sans', 'Liberation Sans', sans-serif" font-size="11" fill="#000000">Irish Republic (gov.ie download dated 08Mar2018)</text>
<rect x="418.5" y="470.5" width="62" height="17" rx="5" ry="5" fill="#d0e6fe" stroke="#000" stroke-width="1" shape-rendering="crispEdges"/>
<text x="425 431 434 441 445 452 459 466" y="481.6" font-family="'DejaVu Sans', 'Liberation Sans', sans-serif" font-size="11" fill="#000000">Fig 460b</text>
</svg>
</div></body></html>
